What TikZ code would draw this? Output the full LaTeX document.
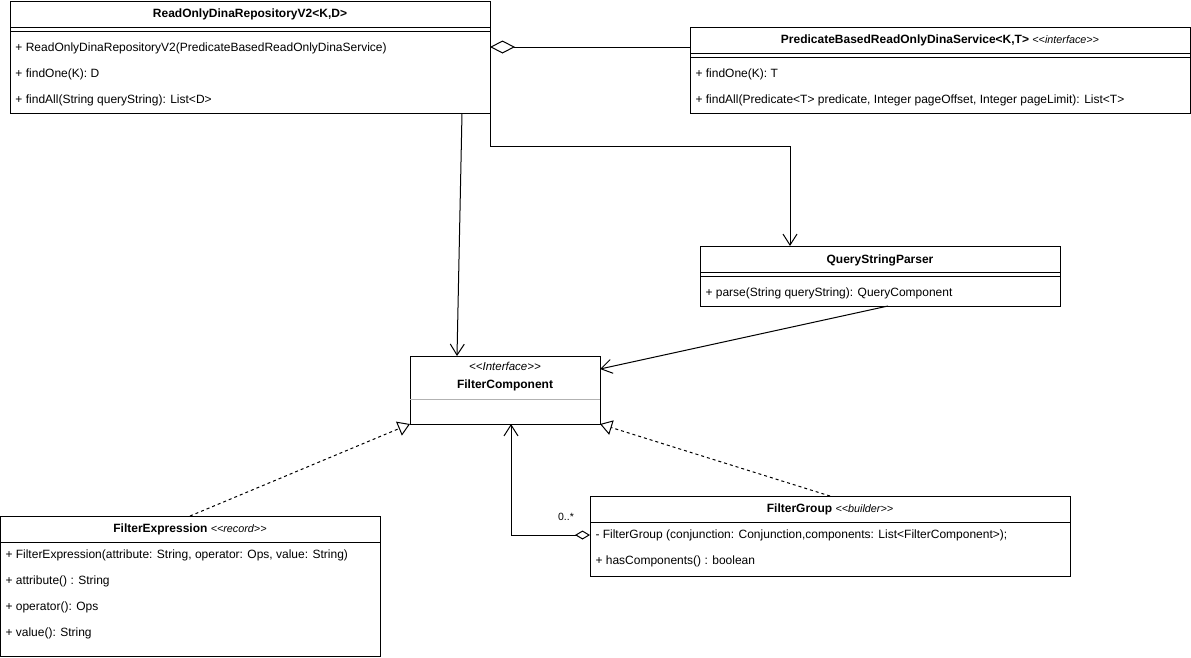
\documentclass[tikz,border=0pt]{standalone}
\usepackage{fontspec}
\setmainfont{Liberation Sans}[Ligatures=TeXOff]
\usetikzlibrary{arrows.meta}
\begin{document}
\begin{tikzpicture}[x=1pt,y=-1pt,line width=1pt,
  box/.style={draw,anchor=north west,inner sep=0pt,outer sep=0pt},
  txt/.style={anchor=west,inner sep=0pt,font=\fontsize{12}{14}\selectfont},
  ttl/.style={inner sep=0pt,font=\fontsize{12}{14}\selectfont},
  lbl/.style={inner sep=0pt,font=\fontsize{10.5}{12}\selectfont},
  openarr/.style={-{Straight Barb[length=11pt,width=14pt]}},
  realize/.style={dash pattern=on 3pt off 3pt,-{Triangle[open,length=12pt,width=15pt]}},
  aggbig/.style={{Diamond[open,length=25pt,width=13pt]}-},
  aggsmall/.style={{Diamond[open,length=15pt,width=9pt]}-{Straight Barb[length=11pt,width=14pt]}},
  sep/.style={line width=1pt}]
\useasboundingbox (0,0) rectangle (1191,657);

% ReadOnlyDinaRepositoryV2
\node[box,minimum width=480pt,minimum height=112pt] (ro) at (10,1) {};
\draw[sep] (10,27) -- (490,27);
\draw[sep] (10,31) -- (490,31);
\node[ttl] (rot) at (250,14) {\bfseries ReadOnlyDinaRepositoryV2<K,D>};
\node[txt] (ro1) at (15,48) {+ ReadOnlyDinaRepositoryV2(PredicateBasedReadOnlyDinaService)};
\node[txt] (ro2) at (15,74) {+ findOne(K): D};
\node[txt] (ro3) at (15,100) {+ findAll(String queryString): List<D>};

% PredicateBasedReadOnlyDinaService
\node[box,minimum width=500pt,minimum height=86pt] (pb) at (690,27) {};
\draw[sep] (690,53) -- (1190,53);
\draw[sep] (690,57) -- (1190,57);
\node[ttl] (pbt) at (940,40) {\bfseries PredicateBasedReadOnlyDinaService<K,T> {\mdseries\fontsize{10.8}{12}\selectfont\itshape <<interface>>}};
\node[txt] (pb1) at (695,74) {+ findOne(K): T};
\node[txt] (pb2) at (695,100) {+ findAll(Predicate<T> predicate, Integer pageOffset, Integer pageLimit): List<T>};

% QueryStringParser
\node[box,minimum width=360pt,minimum height=60pt] (qsp) at (700,246) {};
\draw[sep] (700,272) -- (1060,272);
\draw[sep] (700,276) -- (1060,276);
\node[ttl] (qspt) at (880,260) {\bfseries QueryStringParser};
\node[txt] (qsp1) at (705,293) {+ parse(String queryString): QueryComponent};

% FilterComponent
\node[box,minimum width=190pt,minimum height=68pt] (fc) at (410,356) {};
\node[inner sep=0pt,font=\fontsize{11.5}{13}\selectfont\itshape] (fcs) at (505,366) {<<Interface>>};
\node[ttl] (fct) at (505,385) {\bfseries FilterComponent};
\draw[line width=1pt,gray!60] (410,399) -- (600,399);

% FilterExpression
\node[box,minimum width=380pt,minimum height=140pt] (fe) at (0,516) {};
\draw[sep] (0,542) -- (380,542);
\node[ttl] (fet) at (190,529) {\bfseries FilterExpression {\mdseries\fontsize{10.8}{12}\selectfont\itshape <<record>>}};
\node[txt] (fe1) at (5,555) {+ FilterExpression(attribute: String, operator: Ops, value: String)};
\node[txt] (fe2) at (5,581) {+ attribute() : String};
\node[txt] (fe3) at (5,607) {+ operator(): Ops};
\node[txt] (fe4) at (5,633) {+ value(): String};

% FilterGroup
\node[box,minimum width=480pt,minimum height=80pt] (fg) at (590,496) {};
\draw[sep] (590,522) -- (1070,522);
\node[ttl] (fgt) at (830,509) {\bfseries FilterGroup {\mdseries\fontsize{10.8}{12}\selectfont\itshape <<builder>>}};
\node[txt] (fg1) at (595,535) {- FilterGroup (conjunction: Conjunction,components: List<FilterComponent>);};
\node[txt] (fg2) at (595,561) {+ hasComponents() : boolean};

% connectors
\draw[aggbig] ([yshift=-46pt]ro.north east) -- ([yshift=-20pt]pb.north west);
\draw[openarr] (ro.south east) -- ++(0,33) -| ([xshift=90pt]qsp.north west);
\draw[openarr] ([xshift=-28pt]ro.south east) -- ([xshift=47pt]fc.north west);
\draw[openarr] ([xshift=188pt]qsp.south west) -- ([yshift=-13pt]fc.north east);
\draw[realize] (fe.north) -- (fc.south west);
\draw[realize] (fg.north) -- (fc.south east);
\draw[aggsmall] ([yshift=-39pt]fg.north west) -| ([xshift=101pt]fc.south west);
\node[lbl] (mult) at (566,517) {0..*};
\end{tikzpicture}
\end{document}
